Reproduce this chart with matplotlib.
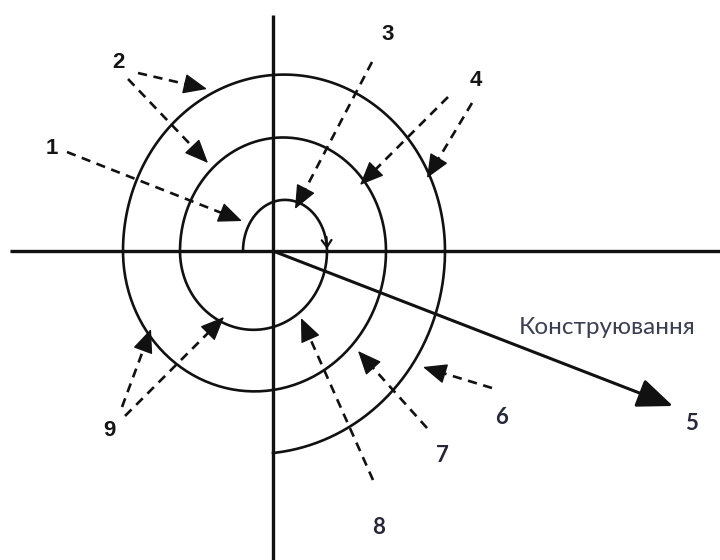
import numpy as np
import matplotlib
matplotlib.use("Agg")
import matplotlib.pyplot as plt

# geometry, in pixel units (y grows downwards)
center = (273, 251)
# spiral: horizontal-axis crossings (signed offset from centre, left < 0)
# and vertical-axis crossings (distance from centre) for each half turn
h_cross = [-30, 54, -93, 113, -150, 172]
v_cross = [49, 76, 113, 139, 176, 202]
spiral_end_shift = -19   # centre shift of the last, unfinished half turn

h_axis = ((10, 251), (720, 251))
v_axis = ((273, 15), (273, 560))

main_arrow_tip = (673, 406)
main_label = "Конструювання"
main_label_pos = (607, 327)

# dashed leaders: (start, arrow tip)
leader_starts = [(67, 152), (138, 73), (128, 79), (372, 62), (448, 97),
                 (472, 103), (492, 388), (427, 428), (373, 480),
                 (122, 407), (125, 416)]
leader_tips = [(242, 221), (207, 89), (208, 163), (295, 209), (360, 185),
               (427, 178), (423, 367), (358, 351), (301, 318),
               (151, 329), (224, 317)]

labels = ["1", "2", "3", "4", "5", "6", "7", "8", "9"]
label_pos = [(52, 148), (118, 62), (388, 35), (476, 80), (692, 424),
             (502, 417), (442, 455), (379, 527), (109, 430)]
label_font = ["arial", "arial", "arial", "arial", "calibri", "calibri",
              "calibri", "calibri", "arial"]

ink = "#111111"

fig = plt.figure(figsize=(7.2, 5.6), dpi=100)
ax = fig.add_axes([0, 0, 1, 1])
ax.set_xlim(0, 720)
ax.set_ylim(560, 0)
ax.axis("off")

# axes cross
ax.plot(*zip(*h_axis), color=ink, lw=2.4, solid_capstyle="butt")
ax.plot(*zip(*v_axis), color=ink, lw=2.4, solid_capstyle="butt")

# spiral: half ellipses between consecutive horizontal crossings,
# upper halves left->right, lower halves right->left
xs, ys = [], []
for i, vc in enumerate(v_cross):
    x0 = h_cross[i]
    if i + 1 < len(h_cross):
        x1 = h_cross[i + 1]
        c = (x0 + x1) / 2
    else:
        c = spiral_end_shift
    a = abs(x0 - c)
    b = vc / np.sqrt(1 - (c / a) ** 2)
    upper = x0 < 0
    phi_start = np.pi if upper else 0.0
    phi_end_full = 0.0 if upper else np.pi
    if i + 1 < len(h_cross):
        phi_end = phi_end_full
    else:
        phi_end = np.arccos(-c / a)   # stop on the vertical axis
    phi = np.linspace(phi_start, phi_end, 120)
    sign = -1 if upper else 1
    xs.extend(center[0] + c + a * np.cos(phi))
    ys.extend(center[1] + sign * b * np.sin(phi))
ax.plot(xs, ys, color=ink, lw=1.9)

# open arrowhead on the inner turn
ax.annotate("", xy=(center[0] + h_cross[1], center[1] - 2),
            xytext=(center[0] + h_cross[1] - 0.5, center[1] - 14),
            arrowprops=dict(arrowstyle="->,head_length=0.5,head_width=0.35",
                            color=ink, lw=1.6, shrinkA=0, shrinkB=0))

# main arrow
ax.annotate("", xy=main_arrow_tip, xytext=center,
            arrowprops=dict(arrowstyle="-|>,head_length=1.1,head_width=0.45",
                            color=ink, lw=2.2, shrinkA=0, shrinkB=0,
                            mutation_scale=20))
ax.text(*main_label_pos, main_label, family="Lato", fontsize=17.5,
        color="#3b3f52", ha="center", va="center")

# dashed leaders with filled heads
for (x0, y0), (x1, y1) in zip(leader_starts, leader_tips):
    ux, uy = x1 - x0, y1 - y0
    n = np.hypot(ux, uy)
    bx, by = x1 - 15 * ux / n, y1 - 15 * uy / n
    ax.plot([x0, bx], [y0, by], color=ink, lw=1.9, ls=(0, (3.5, 2.5)))
    ax.annotate("", xy=(x1, y1), xytext=(bx, by),
                arrowprops=dict(arrowstyle="-|>,head_length=0.75,head_width=0.32",
                                color=ink, lw=1.0, shrinkA=0, shrinkB=0,
                                mutation_scale=20))

for txt, (x, y), f in zip(labels, label_pos, label_font):
    if f == "arial":
        ax.text(x, y, txt, family="Liberation Sans", fontweight="bold",
                fontsize=16, color="#151515", ha="center", va="center")
    else:
        ax.text(x, y, txt, family="Lato", fontweight="bold",
                fontsize=16, color="#262838", ha="center", va="center")

fig.savefig("out.png", dpi=100, facecolor="white")
